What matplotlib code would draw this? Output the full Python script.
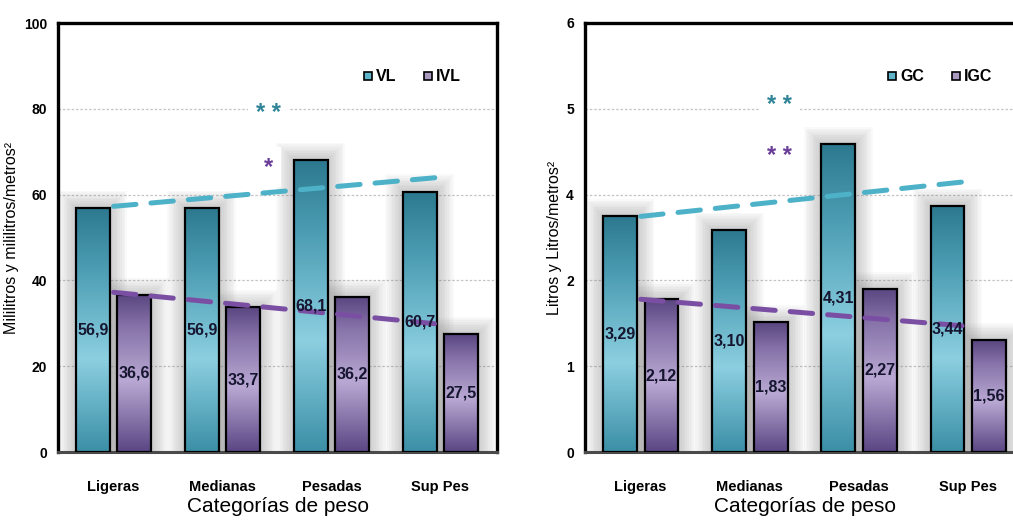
import numpy as np
import matplotlib
matplotlib.use("Agg")
import matplotlib.pyplot as plt
from matplotlib.colors import LinearSegmentedColormap
from matplotlib.patches import Rectangle
from matplotlib.lines import Line2D

# --- data ---
categorias = ["Ligeras", "Medianas", "Pesadas", "Sup Pes"]

vl = [56.9, 56.9, 68.1, 60.7]
ivl = [36.6, 33.7, 36.2, 27.5]
vl_labels = ["56,9", "56,9", "68,1", "60,7"]
ivl_labels = ["36,6", "33,7", "36,2", "27,5"]

# right panel: bar heights on the (relabelled) axis grid
gc = [2.75, 2.59, 3.59, 2.87]
igc = [1.78, 1.51, 1.90, 1.30]
gc_labels = ["3,29", "3,10", "4,31", "3,44"]
igc_labels = ["2,12", "1,83", "2,27", "1,56"]

left_ticks = [0, 20, 40, 60, 80, 100]
left_ticklabels = ["0", "20", "40", "60", "80", "100"]
right_ticks = [0, 1, 2, 3, 4, 5]
right_ticklabels = ["0", "1", "2", "4", "5", "6"]

plt.rcParams["font.family"] = ["Liberation Sans", "DejaVu Sans"]

teal_cm = LinearSegmentedColormap.from_list(
    "teal", [(0, "#3B8FA6"), (0.38, "#8CCFE1"), (0.75, "#4C9DB3"), (1, "#2C798F")])
purple_cm = LinearSegmentedColormap.from_list(
    "purp", [(0, "#5A4683"), (0.45, "#B9A8D3"), (0.8, "#8672A8"), (1, "#5A4680")])

W = 0.31
OFF = 0.19


def glow(ax, xc, h, top):
    # soft grey shadow around every bar
    for k in range(10):
        d = 0.016 * (k + 1)
        ax.add_patch(Rectangle((xc - W / 2 - d, 0), W + 2 * d, h + top * 0.004 * (k + 1),
                               facecolor="#777777", edgecolor="none", alpha=0.04, zorder=1))


def gradient_bars(ax, xs, hs, cmap, top):
    bars = ax.bar(xs, hs, width=W, facecolor="none", edgecolor="black", linewidth=1.6, zorder=4)
    grad = np.linspace(0, 1, 256).reshape(-1, 1)
    for b, xc, h in zip(bars, xs, hs):
        glow(ax, xc, h, top)
        im = ax.imshow(grad, cmap=cmap, origin="lower", aspect="auto", zorder=3,
                       extent=(xc - W / 2, xc + W / 2, 0, h))
        im.set_clip_path(b)
    return bars


def panel(ax, a, b, la, lb, cols, names, ticks, ticklabels, ylabel, top, stars):
    x = np.arange(len(categorias))
    gradient_bars(ax, x - OFF, a, teal_cm, top)
    gradient_bars(ax, x + OFF, b, purple_cm, top)

    for xi, h, t in zip(x - OFF, a, la):
        ax.text(xi, h / 2, t, ha="center", va="center", fontsize=11.5, fontweight="bold",
                color="#161630", zorder=6)
    for xi, h, t in zip(x + OFF, b, lb):
        ax.text(xi, h / 2, t, ha="center", va="center", fontsize=11.5, fontweight="bold",
                color="#161630", zorder=6)

    # linear trend lines (as in the spreadsheet)
    xt = np.linspace(0, 3, 50)
    pa = np.polyfit(x, a, 1)
    pb = np.polyfit(x, b, 1)
    ax.plot(xt, np.polyval(pa, xt), color="#4DB1C8", lw=3.6, dashes=(4.5, 3),
            dash_capstyle="round", zorder=5)
    ax.plot(xt, np.polyval(pb, xt), color="#7A4FA3", lw=3.6, dashes=(4.5, 3),
            dash_capstyle="round", zorder=5)

    for sx, sy, txt, c in stars:
        ax.text(sx, sy, txt, ha="center", va="center", fontsize=17, fontweight="bold",
                color=c, zorder=6,
                bbox=dict(facecolor="white", edgecolor="none", pad=6))

    ax.set_xlim(-0.51, 3.52)
    ax.set_ylim(ticks[0], ticks[-1])
    ax.set_yticks(ticks)
    ax.set_yticklabels(ticklabels, fontsize=10, fontweight="bold")
    ax.set_xticks(x)
    ax.set_xticklabels(categorias, fontsize=10.5, fontweight="bold")
    ax.tick_params(axis="both", length=0)
    ax.tick_params(axis="x", pad=20)
    ax.tick_params(axis="y", pad=8)
    ax.set_xlabel("Categorías de peso", fontsize=15, labelpad=2)
    ax.set_ylabel(ylabel, fontsize=11.5, labelpad=3)
    ax.grid(axis="y", color="#c4c4c4", linestyle=(0, (2, 1.5)), linewidth=0.9, zorder=0)
    ax.set_axisbelow(True)
    for s in ["top", "left", "right"]:
        ax.spines[s].set_linewidth(2.4)
        ax.spines[s].set_color("black")
    ax.spines["bottom"].set_linewidth(2.2)
    ax.spines["bottom"].set_color("#4a4a4a")

    handles = [Line2D([], [], marker="s", ls="none", markersize=6, markerfacecolor=cols[0],
                      markeredgecolor="black", markeredgewidth=1.2),
               Line2D([], [], marker="s", ls="none", markersize=6, markerfacecolor=cols[1],
                      markeredgecolor="black", markeredgewidth=1.2)]
    leg = ax.legend(handles, names, ncol=2, frameon=False, loc="center",
                    bbox_to_anchor=(0.805, 0.875), handletextpad=0.1, columnspacing=1.6,
                    handlelength=0.8, prop=dict(weight="bold", size=11.5))
    leg.set_zorder(7)


fig = plt.figure(figsize=(10.13, 5.2), dpi=100)
ax1 = fig.add_axes([58 / 1013, 1 - 452 / 520, 439 / 1013, 429 / 520])
ax2 = fig.add_axes([585 / 1013, 1 - 452 / 520, 440 / 1013, 429 / 520])

panel(ax1, vl, ivl, vl_labels, ivl_labels, ("#5FB4C9", "#A99BC0"), ["VL", "IVL"],
      left_ticks, left_ticklabels, "Mililitros y mililitros/metros²", 100,
      [(1.42, 79, "* *", "#2F8497"), (1.42, 66.4, "*", "#6A3E98")])
panel(ax2, gc, igc, gc_labels, igc_labels, ("#5FB4C9", "#A99BC0"), ["GC", "IGC"],
      right_ticks, right_ticklabels, "Litros y Litros/metros²", 5,
      [(1.27, 4.04, "* *", "#2F8497"), (1.27, 3.44, "* *", "#6A3E98")])

fig.savefig("out.png", dpi=100)
